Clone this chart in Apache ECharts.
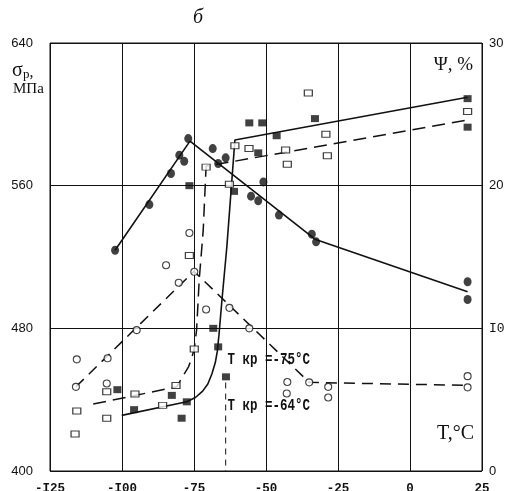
<!DOCTYPE html>
<html>
<head>
<meta charset="utf-8">
<script src="https://cdn.jsdelivr.net/npm/echarts@6/dist/echarts.min.js"></script>
<style>
html,body{margin:0;padding:0;background:#fff;}
#chart{width:507px;height:491px;}
</style>
</head>
<body>
<div id="chart"></div>
<script>
// ---- tick labels ----
const xTickLabels = ['-I25', '-I00', '-75', '-50', '-25', '0', '25'];
const yLeftTickLabels = ['400', '480', '560', '640'];
const yRightTickLabels = ['0', 'I0', '20', '30'];

// ---- σp (MPa), filled circles ----
const sigmaFilledT = [-102.4, -90.5, -83, -80.1, -78.4, -77, -68.5, -66.6, -64, -55.2, -52.7, -50.9, -45.5, -34.1, -32.6, 20, 20];
const sigmaFilledV = [523.8, 549.4, 566.8, 577.1, 573.7, 586.4, 580.8, 572.4, 575.6, 554.1, 551.5, 562.1, 543.5, 532.8, 528.5, 506.1, 496.2];
const sigmaFilledFitT = [-102.4, -76.4, -33, 20];
const sigmaFilledFitV = [523.8, 585, 530, 500.5];

// ---- σp (MPa), open circles ----
const sigmaOpenT = [-116, -115.7, -105.3, -105, -94.9, -84.7, -80.3, -76.6, -74.9, -70.8, -62.7, -55.8, -42.6, -42.8, -35, -28.4, -28.4, 20, 20];
const sigmaOpenV = [447.2, 462.6, 449.1, 463.2, 479, 515.4, 505.6, 533.5, 511.7, 490.6, 491.5, 480, 449.9, 443.5, 449.7, 447.2, 441.2, 453.2, 446.9];
const sigmaOpenFitT = [-116, -75, -35, 20];
const sigmaOpenFitV = [447.2, 512, 449.7, 448];

// ---- Ψ (%), filled squares ----
const psiFilledT = [-101.6, -95.8, -82.7, -79.3, -77.5, -76.6, -68.3, -66.6, -63.9, -61.1, -55.8, -51.3, -52.7, -46.3, -33, 20, 20];
const psiFilledV = [5.7, 4.3, 5.3, 3.7, 4.85, 20.0, 10.0, 8.7, 6.6, 19.6, 24.4, 24.4, 22.3, 23.5, 24.7, 26.1, 24.1];
const psiFilledFitT = [-100.1, -77.5, -74.5, -72.0, -70.2, -68.8, -67.6, -66.9, -66.3, -65.3, -63.6, -60.8, 20];
const psiFilledFitV = [3.9, 4.85, 5.15, 5.6, 6.1, 6.8, 7.6, 8.4, 9.6, 11.97, 15.7, 23.2, 26.2];

// ---- Ψ (%), open squares ----
const psiOpenT = [-116.3, -115.7, -105.3, -105.3, -95.5, -85.9, -81.25, -76.6, -74.9, -70.8, -62.7, -60.8, -55.9, -43.2, -42.6, -35.3, -29.2, -28.7, 20];
const psiOpenV = [2.6, 4.2, 3.7, 5.55, 5.4, 4.6, 6.0, 15.1, 8.55, 21.3, 20.1, 22.8, 22.6, 22.5, 21.5, 26.5, 23.6, 22.1, 25.2];
const psiOpenFitT = [-110, -81, -78.7, -76.9, -75.8, -74.9, -74.1, -73.2, -71.8, -70.8, 20];
const psiOpenFitV = [4.69, 5.9, 6.7, 7.3, 7.9, 8.6, 9.87, 13.38, 16.88, 21.36, 24.6];

// ---- T кр = -64 °C marker line (Ψ axis) ----
const tcrT = [-64, -64];
const tcrV = [6.2, 0];

const zip = (a, b) => a.map((v, i) => [v, b[i]]);
const INK = '#111';
const MONO = '"Liberation Mono", "DejaVu Sans Mono", monospace';
const SERIF = '"Liberation Serif", "DejaVu Serif", serif';
const SANS = '"Liberation Sans", Arial, sans-serif';

const chart = echarts.init(document.getElementById('chart'), null, {renderer: 'canvas'});

const option = {
  backgroundColor: '#fff',
  animation: false,
  grid: {left: 50, right: 25, top: 43, bottom: 20, show: true, borderColor: INK, borderWidth: 1, backgroundColor: 'transparent',
    containLabel: false, outerBoundsMode: 'none'},
  xAxis: {
    type: 'value', min: -125, max: 25, interval: 25,
    axisLine: {show: false}, axisTick: {show: false},
    splitLine: {show: true, lineStyle: {color: INK, width: 1}},
    axisLabel: {
      margin: 11, color: INK, fontFamily: MONO, fontSize: 12.5, fontWeight: 'bold',
      formatter: (v, i) => xTickLabels[i]
    }
  },
  yAxis: [
    {
      type: 'value', min: 400, max: 640, interval: 80, position: 'left',
      axisLine: {show: false}, axisTick: {show: false},
      splitLine: {show: true, lineStyle: {color: INK, width: 1}},
      axisLabel: {margin: 17, color: INK, fontFamily: SANS, fontSize: 13, formatter: (v, i) => yLeftTickLabels[i]}
    },
    {
      type: 'value', min: 0, max: 30, interval: 10, position: 'right',
      axisLine: {show: false}, axisTick: {show: false},
      splitLine: {show: false},
      axisLabel: {
        margin: 7, color: INK, fontFamily: SANS, fontSize: 13,
        formatter: (v, i) => (yRightTickLabels[i].indexOf('I') >= 0 ? '{m|' + yRightTickLabels[i] + '}' : yRightTickLabels[i]),
        rich: {m: {fontFamily: MONO, fontSize: 13, color: INK}}
      }
    }
  ],
  series: [
    // fitted lines
    {type: 'line', yAxisIndex: 0, data: zip(sigmaFilledFitT, sigmaFilledFitV), showSymbol: false, symbol: 'none',
      lineStyle: {color: INK, width: 1.6}, z: 2},
    {type: 'line', yAxisIndex: 0, data: zip(sigmaOpenFitT, sigmaOpenFitV), showSymbol: false, symbol: 'none',
      lineStyle: {color: INK, width: 1.5, type: [11, 7]}, z: 2},
    {type: 'line', yAxisIndex: 1, data: zip(psiFilledFitT, psiFilledFitV), showSymbol: false, symbol: 'none',
      lineStyle: {color: INK, width: 1.6}, z: 2},
    {type: 'line', yAxisIndex: 1, data: zip(psiOpenFitT, psiOpenFitV), showSymbol: false, symbol: 'none',
      lineStyle: {color: INK, width: 1.5, type: [13, 7]}, z: 2},
    {type: 'line', yAxisIndex: 1, data: zip(tcrT, tcrV), showSymbol: false, symbol: 'none',
      lineStyle: {color: INK, width: 1, type: [6, 5]}, z: 2},
    // markers
    {type: 'scatter', yAxisIndex: 0, data: zip(sigmaFilledT, sigmaFilledV), symbol: 'circle', symbolSize: [8, 9],
      itemStyle: {color: INK}, z: 5},
    {type: 'scatter', yAxisIndex: 0, data: zip(sigmaOpenT, sigmaOpenV), symbol: 'circle', symbolSize: 7,
      itemStyle: {color: '#fff', borderColor: INK, borderWidth: 1.1}, z: 5},
    {type: 'scatter', yAxisIndex: 1, data: zip(psiFilledT, psiFilledV), symbol: 'rect', symbolSize: [8, 7],
      itemStyle: {color: INK}, z: 5},
    {type: 'scatter', yAxisIndex: 1, data: zip(psiOpenT, psiOpenV), symbol: 'rect', symbolSize: [8, 6],
      itemStyle: {color: '#fff', borderColor: INK, borderWidth: 1.1}, z: 5}
  ],
  graphic: [
    {type: 'text', x: 198, y: 18, style: {text: 'б', font: 'italic 20px ' + SERIF, fill: INK, align: 'center', verticalAlign: 'middle'}},
    {type: 'text', x: 12, y: 70.6, style: {text: 'σ', font: '20px ' + SERIF, fill: INK, align: 'left', verticalAlign: 'middle'}},
    {type: 'text', x: 23, y: 74.4, style: {text: 'р', font: '13px ' + SERIF, fill: INK, align: 'left', verticalAlign: 'middle'}},
    {type: 'text', x: 29.5, y: 72.4, style: {text: ',', font: '16px ' + SERIF, fill: INK, align: 'left', verticalAlign: 'middle'}},
    {type: 'text', x: 13, y: 89, style: {text: 'МПа', font: '15px ' + SERIF, fill: INK, align: 'left', verticalAlign: 'middle'}},
    {type: 'text', x: 473, y: 65, style: {text: 'Ψ, %', font: '19px ' + SERIF, fill: INK, align: 'right', verticalAlign: 'middle'}},
    {type: 'text', x: 474, y: 434, style: {text: 'T,°C', font: '20px ' + SERIF, fill: INK, align: 'right', verticalAlign: 'middle'}},
    {type: 'text', x: 227.5, y: 359.5, scaleY: 1.3, style: {text: 'T кр =-75°C', font: 'bold 12.5px ' + MONO, fill: INK, align: 'left', verticalAlign: 'middle'}, z: 10},
    {type: 'text', x: 227.5, y: 406, scaleY: 1.3, style: {text: 'T кр =-64°C', font: 'bold 12.5px ' + MONO, fill: INK, align: 'left', verticalAlign: 'middle'}, z: 10}
  ]
};
chart.setOption(option);
</script>
</body>
</html>
